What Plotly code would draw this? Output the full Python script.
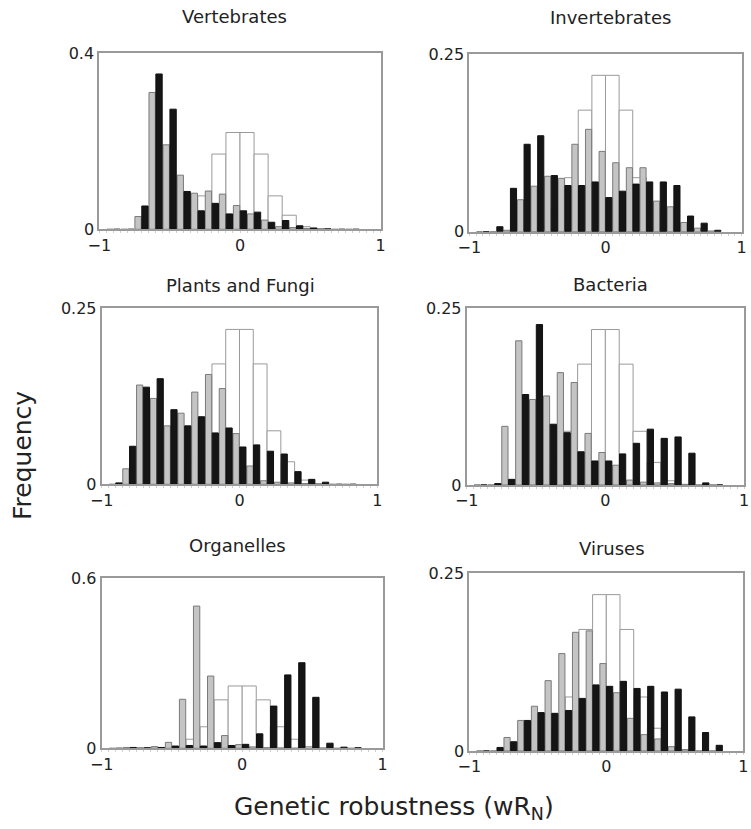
import plotly.graph_objects as go

# ---------------- data ----------------
# pair positions (grey bar sits left of the position, black bar right of it)
bin_pos = [-0.9, -0.8, -0.7, -0.6, -0.5, -0.4, -0.3, -0.2, -0.1, 0.0,
           0.1, 0.2, 0.3, 0.4, 0.5, 0.6, 0.7, 0.8]

# open (reference) histogram: left edges and frequencies
white_left = [-0.6, -0.5, -0.4, -0.3, -0.2, -0.1, 0.0, 0.1, 0.2, 0.3, 0.4, 0.5]
white_freq = [0.001, 0.006, 0.032, 0.076, 0.171, 0.220, 0.220, 0.171, 0.076, 0.032, 0.006, 0.001]

panel_titles = ["Vertebrates", "Invertebrates", "Plants and Fungi",
                "Bacteria", "Organelles", "Viruses"]
y_max = [0.4, 0.25, 0.25, 0.25, 0.6, 0.25]
y_max_labels = ["0.4", "0.25", "0.25", "0.25", "0.6", "0.25"]
x_tick_vals = [-1, 0, 1]
x_tick_text = ["\u22121", "0", "1"]

vertebrates_grey = [0, 0, 0.029, 0.311, 0.192, 0.123, 0.082, 0.087, 0.080, 0.054,
                    0.035, 0.021, 0.006, 0.004, 0.002, 0.001, 0, 0]
vertebrates_black = [0, 0, 0.053, 0.353, 0.273, 0.086, 0.042, 0.059, 0.035, 0.042,
                     0.039, 0.016, 0.020, 0.008, 0.003, 0.001, 0, 0]

invertebrates_grey = [0, 0, 0.002, 0.045, 0.064, 0.078, 0.075, 0.123, 0.144, 0.113,
                      0.097, 0.090, 0.090, 0.043, 0.035, 0.013, 0.005, 0.001]
invertebrates_black = [0, 0.007, 0.061, 0.123, 0.135, 0.079, 0.065, 0.065, 0.070, 0.048,
                       0.057, 0.067, 0.070, 0.070, 0.065, 0.022, 0.012, 0.002]

plants_grey = [0, 0.022, 0.141, 0.122, 0.083, 0.101, 0.131, 0.156, 0.136, 0.072,
               0.026, 0.005, 0.003, 0.002, 0.001, 0, 0, 0]
plants_black = [0.002, 0.054, 0.138, 0.150, 0.106, 0.083, 0.096, 0.073, 0.080, 0.053,
                0.056, 0.047, 0.043, 0.018, 0.007, 0.003, 0, 0]

bacteria_grey = [0, 0, 0.083, 0.204, 0.121, 0.126, 0.159, 0.145, 0.073, 0.046,
                 0.028, 0.007, 0.004, 0.003, 0.002, 0, 0, 0]
bacteria_black = [0, 0.002, 0.008, 0.128, 0.227, 0.086, 0.074, 0.047, 0.034, 0.034,
                  0.044, 0.059, 0.079, 0.066, 0.068, 0.045, 0.003, 0]

organelles_grey = [0, 0.003, 0.002, 0.006, 0.021, 0.173, 0.502, 0.255, 0.045, 0.013,
                   0.005, 0.002, 0.001, 0, 0, 0, 0, 0]
organelles_black = [0, 0.003, 0.002, 0.003, 0.008, 0.010, 0.008, 0.020, 0.010, 0.014,
                    0.051, 0.149, 0.259, 0.302, 0.180, 0.018, 0.004, 0.002]

viruses_grey = [0, 0, 0.019, 0.043, 0.063, 0.099, 0.137, 0.167, 0.169, 0.123,
                0.082, 0.046, 0.023, 0.017, 0.006, 0.002, 0, 0]
viruses_black = [0, 0.005, 0.013, 0.043, 0.054, 0.053, 0.057, 0.074, 0.093, 0.091,
                 0.098, 0.088, 0.091, 0.083, 0.087, 0.048, 0.026, 0.008]

grey_series = [vertebrates_grey, invertebrates_grey, plants_grey,
               bacteria_grey, organelles_grey, viruses_grey]
black_series = [vertebrates_black, invertebrates_black, plants_black,
                bacteria_black, organelles_black, viruses_black]

# ---------------- layout (pixel geometry of the 751x829 page) ----------------
W, H = 751, 829
frames = [  # (left, right, top, bottom) in px
    (99.3, 380.7, 53.3, 229.3),
    (469.3, 741.7, 54.0, 231.7),
    (101.7, 377.3, 308.3, 484.3),
    (466.7, 744.0, 308.3, 485.0),
    (101.7, 382.7, 578.3, 748.3),
    (469.3, 743.3, 573.3, 751.0),
]
title_pos = [(234.5, 16.5), (610, 17.5), (240, 285), (610, 284), (237, 545), (611.7, 548.5)]

FONT = "DejaVu Sans"
FRAME_COL = "#9a9a9a"

fig = go.Figure()
layout = dict(
    width=W, height=H, margin=dict(l=0, r=0, t=0, b=0, pad=0, autoexpand=False),
    paper_bgcolor="white", plot_bgcolor="white",
    barmode="overlay", showlegend=False,
    font=dict(family=FONT, size=14, color="#222"),
    annotations=[],
)

for i in range(6):
    n = "" if i == 0 else str(i + 1)
    xa, ya = "x" + n, "y" + n
    l, r, t, b = frames[i]
    layout["xaxis" + n] = dict(
        domain=[l / W, r / W], range=[-1, 1], anchor=ya,
        tickvals=x_tick_vals, ticktext=x_tick_text, ticks="",
        showgrid=False, zeroline=False, showline=True, mirror=True,
        linecolor=FRAME_COL, linewidth=2, fixedrange=True, automargin=False,
        tickfont=dict(family=FONT, size=16, color="#222"),
        minor=dict(dtick=0.05, ticks="outside", ticklen=2, tickcolor="#d0d0d0", showgrid=False),
    )
    layout["yaxis" + n] = dict(
        domain=[1 - b / H, 1 - t / H], range=[0, y_max[i]], anchor=xa,
        tickvals=[0, y_max[i]], ticktext=["0", y_max_labels[i]], ticks="",
        showgrid=False, zeroline=False, showline=True, mirror=True,
        linecolor=FRAME_COL, linewidth=2, fixedrange=True, automargin=False,
        tickfont=dict(family=FONT, size=16, color="#222"),
    )
    # open reference histogram
    fig.add_trace(go.Bar(
        x=white_left, y=white_freq, width=0.1, offset=0,
        marker=dict(color="white", line=dict(color="#9a9a9a", width=1)),
        xaxis=xa, yaxis=ya,
    ))
    fig.add_trace(go.Bar(
        x=bin_pos, y=grey_series[i], width=0.045, offset=-0.047,
        marker=dict(color="#c4c4c4", line=dict(color="#7a7a7a", width=1)),
        xaxis=xa, yaxis=ya,
    ))
    fig.add_trace(go.Bar(
        x=bin_pos, y=black_series[i], width=0.045, offset=0.002,
        marker=dict(color="#151515", line=dict(color="#111111", width=1)),
        xaxis=xa, yaxis=ya,
    ))
    tx, ty = title_pos[i]
    layout["annotations"].append(dict(
        text=panel_titles[i], x=tx / W, y=1 - ty / H, xref="paper", yref="paper",
        showarrow=False, xanchor="center", yanchor="middle",
        font=dict(family=FONT, size=18, color="#222"),
    ))

layout["annotations"].append(dict(
    text="Frequency", x=22 / W, y=1 - 456 / H, xref="paper", yref="paper",
    showarrow=False, textangle=-90, xanchor="center", yanchor="middle",
    font=dict(family=FONT, size=25, color="#222"),
))
layout["annotations"].append(dict(
    text="Genetic robustness (wR<sub>N</sub>)", x=394 / W, y=1 - 808 / H,
    xref="paper", yref="paper", showarrow=False, xanchor="center", yanchor="middle",
    font=dict(family=FONT, size=25, color="#222"),
))

fig.update_layout(**layout)
fig.write_html("out.html")
